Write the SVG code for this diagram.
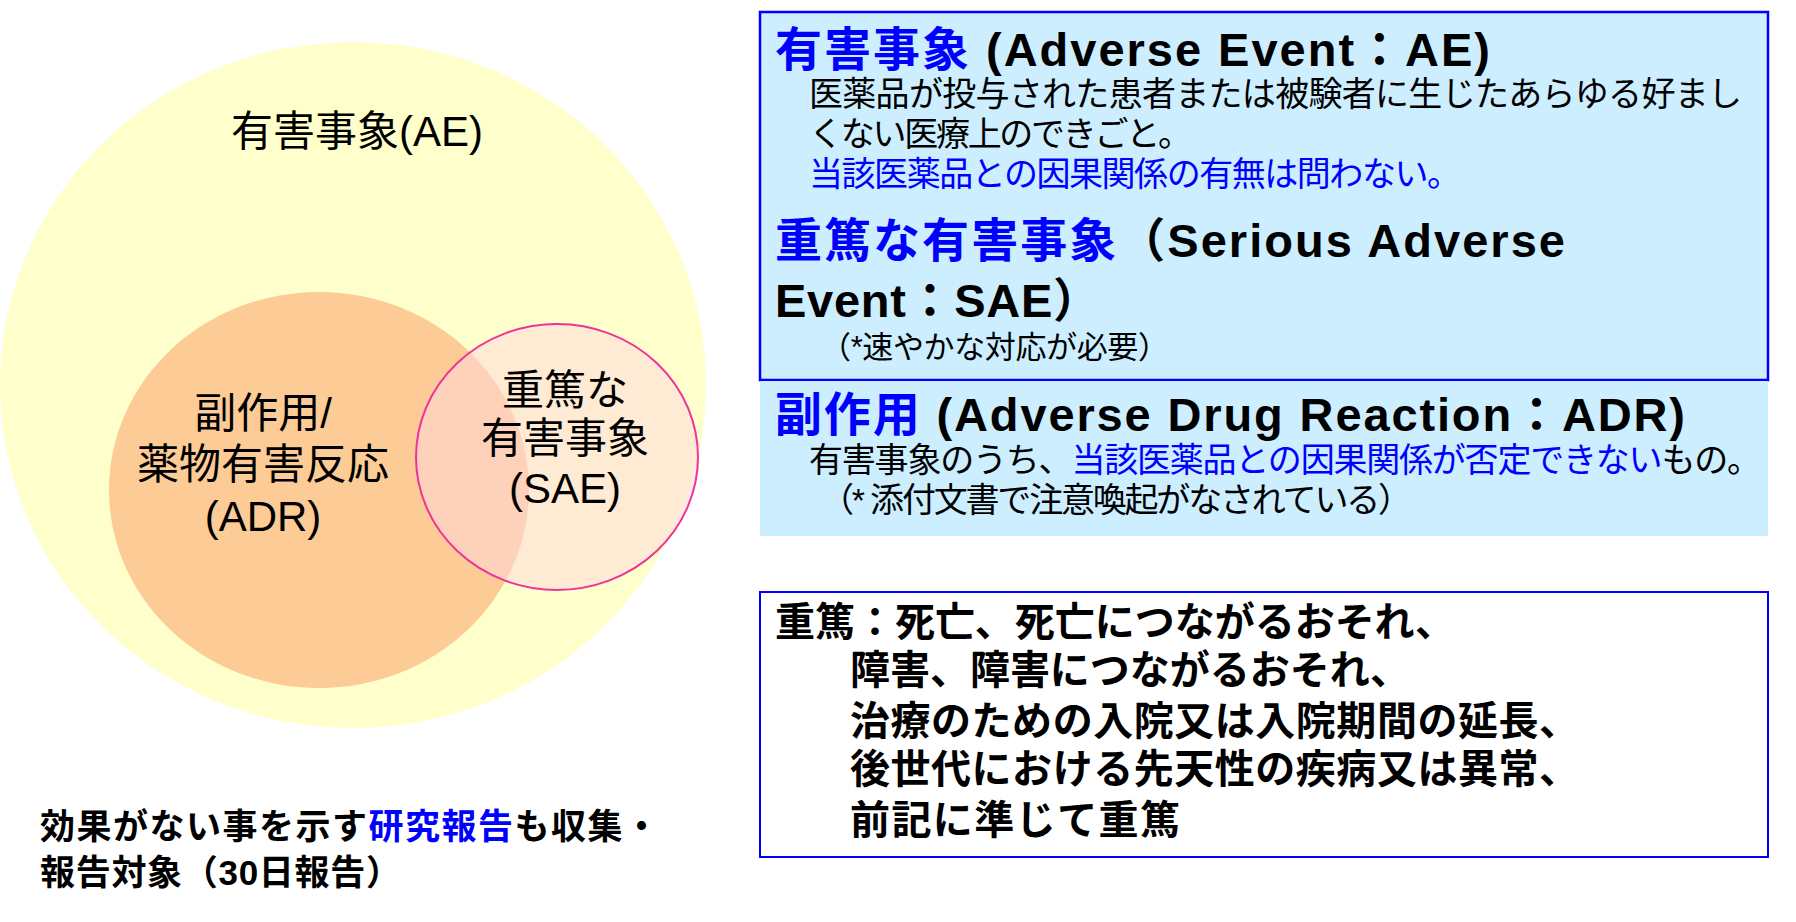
<svg xmlns="http://www.w3.org/2000/svg" width="1796" height="922" viewBox="0 0 1796 922">
<style>
text{font-family:"Liberation Sans","Noto Sans CJK JP",sans-serif;fill:#000}
.c{font-size:42px;text-anchor:middle}
.h{font-size:47px;font-weight:bold}
.b{fill:#0000ff}
.d{font-size:34px}
.p{font-size:31px}
.s{font-size:40px;font-weight:bold}
.f{font-size:35px;font-weight:bold}
</style>
<rect width="1796" height="922" fill="#fff"/>
<g id="ae"><ellipse cx="353" cy="385" rx="353" ry="343" fill="#ffffcc"/><text class="c" x="357" y="146">有害事象(AE)</text></g>
<g id="adr"><ellipse cx="319" cy="490" rx="210" ry="198" fill="#fccb96"/><text class="c" x="263" y="428">副作用/</text><text class="c" x="263" y="479">薬物有害反応</text><text class="c" x="263" y="531">(ADR)</text></g>
<g id="sae"><ellipse cx="557" cy="457" rx="141" ry="133" fill="#ffd9d9" fill-opacity="0.55" stroke="#ee3399" stroke-width="2"/><text class="c" x="565" y="405">重篤な</text><text class="c" x="565" y="453">有害事象</text><text class="c" x="565" y="503">(SAE)</text></g>
<g id="note"><text class="f" x="40" y="839" textLength="619">効果がない事を示す<tspan class="b">研究報告</tspan>も収集・</text><text class="f" x="40" y="885" textLength="361">報告対象（30日報告）</text></g>
<g id="defs">
<rect x="760" y="12" width="1008" height="368" fill="#cceeff" stroke="#0000ff" stroke-width="2.5"/>
<rect x="760" y="381" width="1008" height="155" fill="#cceeff"/>
<text class="h" x="775" y="66" textLength="715"><tspan class="b">有害事象</tspan> (Adverse Event：AE)</text>
<text class="d" x="809" y="106" textLength="933">医薬品が投与された患者または被験者に生じたあらゆる好まし</text>
<text class="d" x="809" y="146" textLength="383">くない医療上のできごと。</text>
<text class="d b" x="809" y="186" textLength="652">当該医薬品との因果関係の有無は問わない。</text>
<text class="h" x="775" y="257" textLength="790"><tspan class="b">重篤な有害事象</tspan>（Serious Adverse</text>
<text class="h" x="775" y="317" textLength="325">Event：SAE）</text>
<text class="p" x="820" y="358" textLength="349">（*速やかな対応が必要）</text>
<text class="h" x="775" y="431" textLength="910"><tspan class="b">副作用</tspan> (Adverse Drug Reaction：ADR)</text>
<text class="d" x="809" y="472" textLength="952">有害事象のうち、<tspan class="b">当該医薬品との因果関係が否定できない</tspan>もの。</text>
<text class="d" x="820" y="512" textLength="592">（* 添付文書で注意喚起がなされている）</text>
</g>
<g id="serious">
<rect x="760" y="592" width="1008" height="265" fill="#fff" stroke="#0000ff" stroke-width="2"/>
<text class="s" x="775" y="636" textLength="680">重篤：死亡、死亡につながるおそれ、</text>
<text class="s" x="850" y="684" textLength="560">障害、障害につながるおそれ、</text>
<text class="s" x="850" y="735" textLength="729">治療のための入院又は入院期間の延長、</text>
<text class="s" x="850" y="783" textLength="729">後世代における先天性の疾病又は異常、</text>
<text class="s" x="850" y="834" textLength="330">前記に準じて重篤</text>
</g>
<g id="connectors"/>
</svg>
